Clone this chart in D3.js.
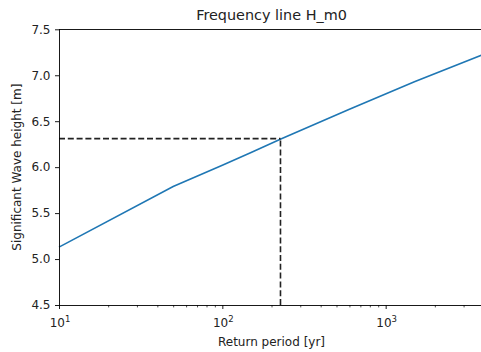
<!DOCTYPE html>
<html><head><meta charset="utf-8">
<script src="https://cdn.jsdelivr.net/npm/d3@7"></script>
<style>html,body{margin:0;padding:0;background:#fff;overflow:hidden}</style>
</head><body>
<svg id="c" width="481" height="352"></svg>
<script>
const returnPeriods = [10, 50, 100, 150, 230, 600, 1500, 4000];
const waveHeights   = [5.13, 5.79, 6.02, 6.16, 6.31, 6.63, 6.93, 7.23];
const designPeriod = 227;
const designHeight = 6.31;
const yTicks = [4.5, 5.0, 5.5, 6.0, 6.5, 7.0, 7.5];
const xMajorTicks = [10, 100, 1000];
const xLabelExp = ["1", "2", "3"];

const svg = d3.select("#c");
const font = "DejaVu Sans, sans-serif";
const L = 59, R = 484, T = 29.3, B = 305;
const x = d3.scaleLog().domain([10, 4000]).range([L, R]);
const y = d3.scaleLinear().domain([4.5, 7.5]).range([B, T]);

const minor = [];
for (let d = 10; d < 4000; d *= 10) for (let k = 2; k <= 9; k++) if (d * k <= 4000) minor.push(d * k);

const g = svg.append("g");
const line = d3.line().x((d, i) => x(returnPeriods[i])).y(d => y(d));
g.append("path").datum(waveHeights).attr("d", line)
  .attr("fill", "none").attr("stroke", "#1f77b4").attr("stroke-width", 1.6);

g.append("line").attr("x1", x(10)).attr("x2", x(designPeriod))
  .attr("y1", y(designHeight)).attr("y2", y(designHeight))
  .attr("stroke", "#222").attr("stroke-width", 1.6).attr("stroke-dasharray", "6,2.8");
g.append("line").attr("x1", x(designPeriod)).attr("x2", x(designPeriod))
  .attr("y1", y(4.5)).attr("y2", y(designHeight))
  .attr("stroke", "#222").attr("stroke-width", 1.6).attr("stroke-dasharray", "6,2.8");

const sp = svg.append("g").attr("stroke", "#000").attr("stroke-width", 0.9).attr("shape-rendering", "crispEdges");
sp.append("line").attr("x1", L).attr("x2", L).attr("y1", T).attr("y2", B);
sp.append("line").attr("x1", L).attr("x2", R).attr("y1", B).attr("y2", B);
sp.append("line").attr("x1", L).attr("x2", R).attr("y1", T).attr("y2", T);
sp.append("line").attr("x1", R).attr("x2", R).attr("y1", T).attr("y2", B);

const yAx = svg.append("g").attr("transform", `translate(${L},0)`)
  .call(d3.axisLeft(y).tickValues(yTicks).tickFormat(d3.format(".1f")).tickSize(4).tickPadding(4.5));
yAx.select(".domain").remove();
yAx.selectAll("line").attr("stroke", "#000").attr("stroke-width", 0.9);
yAx.selectAll("text").attr("font-family", font).attr("font-size", "12px").attr("fill", "#222");

const xAx = svg.append("g").attr("transform", `translate(0,${B})`)
  .call(d3.axisBottom(x).tickValues(xMajorTicks).tickFormat("").tickSize(4));
xAx.select(".domain").remove();
xAx.selectAll("line").attr("stroke", "#000").attr("stroke-width", 0.9);
const xMin = svg.append("g").attr("transform", `translate(0,${B})`)
  .call(d3.axisBottom(x).tickValues(minor).tickFormat("").tickSize(2.4));
xMin.select(".domain").remove();
xMin.selectAll("line").attr("stroke", "#000").attr("stroke-width", 0.7);

xMajorTicks.forEach((v, i) => {
  const t = svg.append("text").attr("x", x(v) + 1).attr("y", B + 22)
    .attr("text-anchor", "middle").attr("font-family", font).attr("font-size", "12px").attr("fill", "#222");
  t.append("tspan").text("10");
  t.append("tspan").attr("dy", -5).attr("font-size", "8.5px").text(xLabelExp[i]);
});

svg.append("text").attr("x", (L + R) / 2).attr("y", 345.5).attr("text-anchor", "middle")
  .attr("font-family", font).attr("font-size", "12px").attr("fill", "#222").text("Return period [yr]");
svg.append("text").attr("transform", `translate(21,${(T + B) / 2}) rotate(-90)`).attr("text-anchor", "middle")
  .attr("font-family", font).attr("font-size", "12px").attr("fill", "#222").text("Significant Wave height [m]");
svg.append("text").attr("x", (L + R) / 2).attr("y", 19.5).attr("text-anchor", "middle")
  .attr("font-family", font).attr("font-size", "14.4px").attr("fill", "#222").text("Frequency line H_m0");
</script>
</body></html>
